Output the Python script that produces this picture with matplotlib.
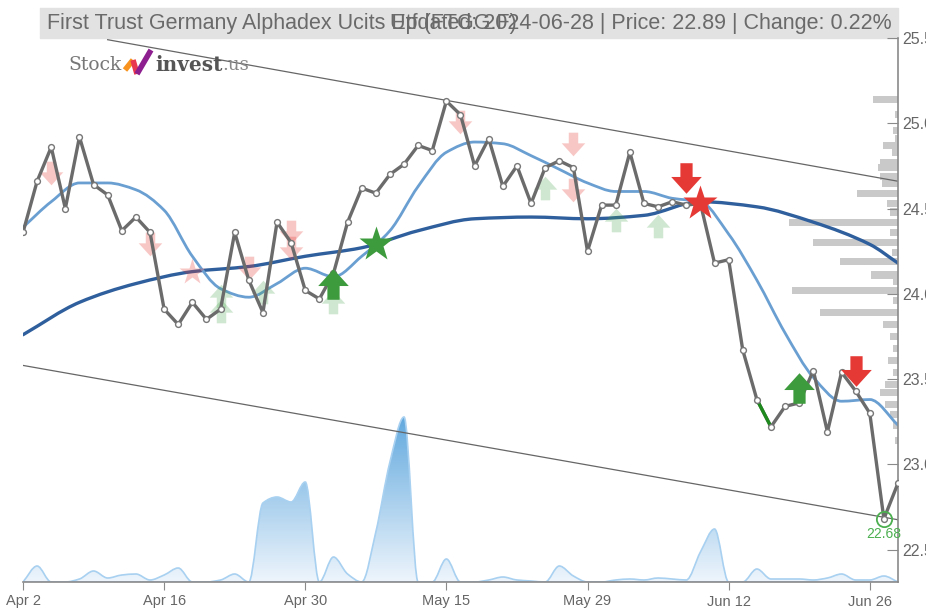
import numpy as np
import matplotlib
matplotlib.use("Agg")
import matplotlib.pyplot as plt
from matplotlib.path import Path
from matplotlib.patches import PathPatch, Rectangle
from matplotlib.lines import Line2D
from matplotlib.colors import LinearSegmentedColormap

plt.rcParams['font.family'] = ['Liberation Sans', 'DejaVu Sans']

# trading-day index 0..62 (Apr 2 .. Jun 28 2024)
tick_pos = [0, 10, 20, 30, 40, 50, 60]
tick_labels = ["Apr 2", "Apr 16", "Apr 30", "May 15", "May 29", "Jun 12", "Jun 26"]

price = [24.36, 24.66, 24.86, 24.50, 24.92, 24.64, 24.58, 24.37, 24.45, 24.36,
         23.91, 23.82, 23.95, 23.85, 23.91, 24.36, 24.08, 23.89, 24.42, 24.30,
         24.02, 23.97, 24.12, 24.42, 24.62, 24.59, 24.70, 24.76, 24.87, 24.84,
         25.13, 25.05, 24.75, 24.91, 24.63, 24.75, 24.53, 24.74, 24.78, 24.74,
         24.25, 24.52, 24.52, 24.83, 24.53, 24.51, 24.54, 24.52, 24.53, 24.18,
         24.20, 23.67, 23.38, 23.22, 23.34, 23.36, 23.55, 23.19, 23.54, 23.43,
         23.30, 22.68, 22.89]

ma_short_x = list(range(0, 63, 2))
ma_short = [24.39, 24.54, 24.65, 24.65, 24.61, 24.49, 24.22, 24.03, 23.98, 24.06,
            24.15, 24.10, 24.22, 24.37, 24.63, 24.83, 24.89, 24.88, 24.81, 24.73,
            24.65, 24.60, 24.60, 24.56, 24.54, 24.35, 24.08, 23.77, 23.51, 23.37,
            23.38, 23.23]

ma_long_x = [0, 4, 8, 12, 16, 20, 24, 28, 32, 36, 40, 44, 48, 52, 56, 60, 62]
ma_long = [23.76, 23.95, 24.06, 24.13, 24.16, 24.22, 24.27, 24.37, 24.44, 24.45,
           24.44, 24.46, 24.54, 24.51, 24.42, 24.29, 24.18]

trend_upper_x = [6, 62]
trend_upper = [25.49, 24.66]
trend_lower_x = [0, 62]
trend_lower = [23.58, 22.675]

volume = [0, 16, 0, 0, 3, 11, 4, 7, 8, 2,
          7, 14, 0, 0, 2, 8, 0, 79, 85, 80,
          100, 0, 25, 8, 0, 50, 120, 165, 0, 0,
          23, 0, 0, 2, 5, 2, 1, 0, 16, 6,
          0, 0, 2, 3, 2, 4, 3, 2, 30, 53,
          0, 0, 13, 3, 3, 3, 2, 4, 8, 2,
          2, 6, 0]

pv_price = [25.14, 25.05, 24.96, 24.91, 24.87, 24.83, 24.77, 24.74, 24.69, 24.65,
            24.59, 24.53, 24.48, 24.42, 24.36, 24.30, 24.24, 24.19, 24.11, 24.07,
            24.02, 23.96, 23.89, 23.82, 23.75, 23.68, 23.61, 23.54, 23.47, 23.42,
            23.35, 23.29, 23.23, 23.14]
pv_vol = [25, 3, 5, 3, 15, 6, 18, 20, 18, 16,
          41, 11, 8, 109, 8, 85, 6, 58, 27, 5,
          106, 5, 78, 15, 8, 5, 10, 5, 13, 18,
          13, 8, 5, 3]

# signals: (index, price level)
sig_down = [(47, 24.68), (59, 23.55)]
sig_up = [(22, 24.06), (55, 23.45)]
sig_star_buy = [(25, 24.29)]
sig_star_sell = [(48, 24.53)]
faded_down = [(2, 24.71), (9, 24.29), (16, 24.15), (19, 24.36), (19, 24.27),
              (31, 25.01), (39, 24.88), (39, 24.61)]
faded_star_sell = [(12, 24.13)]
faded_up = [(14, 23.99), (14, 23.90), (17, 24.01), (22, 23.95), (37, 24.62),
            (42, 24.43), (45, 24.40)]
low_idx = 61

W, H = 926, 608
fig = plt.figure(figsize=(W / 100, H / 100), dpi=100)
ax = fig.add_axes([23 / W, 26 / H, 875 / W, 544 / H])
ax_v = ax.twinx()
ax_pv = ax.twiny()
ax.set_zorder(2)
ax.patch.set_visible(False)
ax_v.set_zorder(0)
ax_pv.set_zorder(1)
ax_pv.patch.set_visible(False)

xlim = (0, 62)
ylim = (22.31, 25.5)


def smooth(x, y):
    # monotone cubic bezier segments through the points
    x = np.asarray(x, float)
    y = np.asarray(y, float)
    d = np.diff(y) / np.diff(x)
    m = np.zeros_like(y)
    with np.errstate(divide='ignore', invalid='ignore'):
        hm = np.where(d[:-1] * d[1:] > 0, 2 / (1 / d[:-1] + 1 / d[1:]), 0)
    m[1:-1] = np.nan_to_num(hm)
    m[0], m[-1] = d[0], d[-1]
    verts = [(x[0], y[0])]
    codes = [Path.MOVETO]
    for i in range(len(x) - 1):
        h = x[i + 1] - x[i]
        verts += [(x[i] + h / 3, y[i] + m[i] * h / 3),
                  (x[i + 1] - h / 3, y[i + 1] - m[i + 1] * h / 3),
                  (x[i + 1], y[i + 1])]
        codes += [Path.CURVE4] * 3
    return verts, codes


def area_path(x, y):
    verts, codes = smooth(x, y)
    verts = [(x[0], 0)] + verts + [(x[-1], 0), (x[0], 0)]
    codes = [Path.MOVETO, Path.LINETO] + codes[1:] + [Path.LINETO, Path.CLOSEPOLY]
    return Path(verts, codes)


def smooth_line(a, x, y, **kw):
    verts, codes = smooth(x, y)
    a.add_patch(PathPatch(Path(verts, codes), facecolor='none', **kw))


idx = np.arange(len(volume))
vpatch = PathPatch(area_path(idx, volume), facecolor='none', edgecolor='#a8d0f0', lw=1.2)
ax_v.add_patch(vpatch)
cmap = LinearSegmentedColormap.from_list('vol', ['#eef5fc', '#62a9de'])
grad = np.linspace(0, 1, 256).reshape(-1, 1)
im = ax_v.imshow(grad, extent=[xlim[0], xlim[1], 0, max(volume)], origin='lower',
                 aspect='auto', cmap=cmap, zorder=0)
im.set_clip_path(vpatch)
ax_v.set_xlim(*xlim)
ax_v.set_ylim(0, max(volume) * 544 / 165)
ax_v.axis('off')

# price-by-volume bars on the right
ax_pv.barh(pv_price, pv_vol, height=0.042, color='#c9c9c9', linewidth=0)
ax_pv.set_xlim(875, 0)
ax_pv.axis('off')

# trend channel
ax.plot(trend_upper_x, trend_upper, color='#666666', lw=0.9)
ax.plot(trend_lower_x, trend_lower, color='#666666', lw=0.9)

# moving averages
smooth_line(ax, ma_long_x, ma_long, edgecolor='#2f5f9c', lw=2.4, capstyle='round')
smooth_line(ax, ma_short_x, ma_short, edgecolor='#6a9fd2', lw=2.0, capstyle='round')

# price
ax.plot(idx, price, color='#6b6b6b', lw=2.4, zorder=3)
ax.plot(idx[52:54], price[52:54], color='#1e8a1e', lw=2.4, zorder=3)
ax.plot(idx, price, ls='none', marker='o', ms=4.2, mfc='white', mec='#777777',
        mew=1.0, zorder=4)

# block arrow markers
arrow_dn = Path([(-0.2, 0.5), (0.2, 0.5), (0.2, 0.05), (0.5, 0.05), (0, -0.5),
                 (-0.5, 0.05), (-0.2, 0.05), (-0.2, 0.5)], closed=True)
arrow_up = Path([(x, -y) for x, y in arrow_dn.vertices], closed=True)


def marks(pts, marker, color, size, alpha, z):
    xs, ys = zip(*pts)
    ax.plot(xs, ys, ls='none', marker=marker, ms=size, color=color, mec='none',
            alpha=alpha, zorder=z)


marks(faded_down, arrow_dn, '#e53935', 17, 0.28, 2.5)
marks(faded_star_sell, '*', '#e53935', 20, 0.28, 2.5)
marks(faded_up, arrow_up, '#43a047', 17, 0.25, 2.5)
marks(sig_down, arrow_dn, '#e53935', 22, 1, 5)
marks(sig_up, arrow_up, '#3d9a3d', 22, 1, 5)
marks(sig_star_buy, '*', '#3d9a3d', 26, 1, 5)
marks(sig_star_sell, '*', '#e53935', 26, 1, 5)

ax.plot(low_idx, price[low_idx], ls='none', marker='o', ms=11, mfc='none',
        mec='#4caf50', mew=1.3, zorder=5)
ax.annotate(f"{price[low_idx]:.2f}", (low_idx, price[low_idx]), xytext=(0, -6),
            textcoords='offset points', ha='center', va='top', color='#4caf50',
            fontsize=10)

# axes styling
ax.set_xlim(*xlim)
ax.set_ylim(*ylim)
ax.set_xticks(tick_pos)
ax.set_xticklabels(tick_labels)
ax.set_yticks([22.5, 23.0, 23.5, 24.0, 24.5, 25.0, 25.5])
ax.set_yticklabels(["22.5", "23.0", "23.5", "24.0", "24.5", "25.0", "25.5"])
ax.yaxis.tick_right()
for s in ['top', 'left']:
    ax.spines[s].set_visible(False)
for s in ['bottom', 'right']:
    ax.spines[s].set_color('#8a8a8a')
    ax.spines[s].set_linewidth(1.2)
ax.tick_params(axis='x', direction='out', length=6, color='#8a8a8a', labelsize=10.5,
               labelcolor='#666666', pad=3)
ax.tick_params(axis='y', direction='in', length=8, color='#8a8a8a', labelsize=11.5,
               labelcolor='#666666', pad=3)

# title bar
fig.patches.append(Rectangle((40 / W, 1 - 38 / H), 858 / W, 30 / H,
                             transform=fig.transFigure, color='#e2e2e2', zorder=0))
fig.text(47 / W, 1 - 23 / H, "First Trust Germany Alphadex Ucits Etf (FTGG.F)",
         ha='left', va='center', fontsize=15.5, color='#6a6a6a')
fig.text(892 / W, 1 - 23 / H, "Updated: 2024-06-28 | Price: 22.89 | Change: 0.22%",
         ha='right', va='center', fontsize=15.5, color='#6a6a6a')

# logo
fig.text(68 / W, 1 - 65 / H, "Stock", ha='left', va='center', fontsize=13.5,
         color='#777777', family='DejaVu Serif')
for (x0, y0, x1, y1, c) in [(125, 70, 133, 60, '#f7931e'), (133, 60, 137, 74, '#e8384f'),
                            (137, 74, 151, 50, '#8e1f8f')]:
    fig.add_artist(Line2D([x0 / W, x1 / W], [1 - y0 / H, 1 - y1 / H], color=c, lw=4,
                          solid_capstyle='butt', transform=fig.transFigure))
fig.text(155 / W, 1 - 65 / H, "invest", ha='left', va='center', fontsize=14.5,
         color='#555555', family='DejaVu Serif', weight='bold')
fig.text(222 / W, 1 - 65 / H, ".us", ha='left', va='center', fontsize=13,
         color='#888888', family='DejaVu Serif')

fig.savefig("out.png", dpi=100)
